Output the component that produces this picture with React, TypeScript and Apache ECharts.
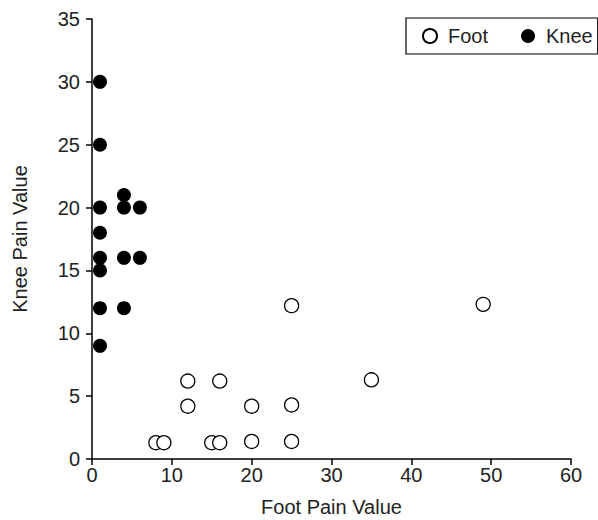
import React, { useEffect, useRef } from "react";
import * as echarts from "echarts";

const footX = [8, 9, 12, 12, 15, 16, 16, 20, 20, 25, 25, 25, 35, 49];
const footY = [1.3, 1.3, 6.2, 4.2, 1.3, 1.3, 6.2, 4.2, 1.4, 12.2, 4.3, 1.4, 6.3, 12.3];
const kneeX = [1, 1, 1, 1, 1, 1, 1, 1, 4, 4, 4, 4, 6, 6];
const kneeY = [30, 25, 20, 18, 16, 15, 12, 9, 21, 20, 16, 12, 20, 16];
const seriesNames = ["Foot", "Knee"];
const xTitle = "Foot Pain Value";
const yTitle = "Knee Pain Value";

const FONT = "'Liberation Sans', Arial, Helvetica, sans-serif";

export default function App() {
  const ref = useRef<HTMLDivElement>(null);
  useEffect(() => {
    if (!ref.current) return;
    const chart = echarts.init(ref.current, undefined, { renderer: "svg" });
    const axisCommon = {
      axisLine: { show: true, lineStyle: { color: "#000", width: 1.5 } },
      axisTick: { show: true, inside: false, length: 6, lineStyle: { color: "#000", width: 1.5 } },
      splitLine: { show: false },
      axisLabel: { color: "#222", fontSize: 20, fontFamily: FONT },
      nameTextStyle: { color: "#222", fontSize: 20, fontFamily: FONT },
      nameLocation: "middle" as const,
    };
    chart.setOption({
      animation: false,
      backgroundColor: "#fff",
      textStyle: { fontFamily: FONT },
      grid: { left: 92, right: 27, top: 19, bottom: 61, containLabel: false, outerBoundsMode: "none" },
      xAxis: {
        ...axisCommon,
        type: "value",
        min: 0,
        max: 60,
        interval: 10,
        name: xTitle,
        nameGap: 38,
        axisLabel: { ...axisCommon.axisLabel, margin: 6 },
      },
      yAxis: {
        ...axisCommon,
        type: "value",
        min: 0,
        max: 35,
        interval: 5,
        name: yTitle,
        nameGap: 62,
        axisLabel: { ...axisCommon.axisLabel, margin: 12 },
      },
      legend: {
        data: seriesNames.map((n) => ({ name: n, icon: "circle" })),
        left: 406,
        top: 18,
        orient: "horizontal",
        borderColor: "#000",
        borderWidth: 1.2,
        borderRadius: 0,
        padding: [8, 5, 8, 16],
        itemWidth: 14,
        itemHeight: 14,
        itemGap: 33,
        textStyle: { color: "#222", fontSize: 20, fontFamily: FONT, padding: [0, 0, 0, 6] },
      },
      series: [
        {
          name: seriesNames[0],
          type: "scatter",
          symbol: "circle",
          symbolSize: 14,
          data: footX.map((x, i) => [x, footY[i]]),
          itemStyle: { color: "#fff", borderColor: "#000", borderWidth: 1.3, opacity: 1 },
        },
        {
          name: seriesNames[1],
          type: "scatter",
          symbol: "circle",
          symbolSize: 14,
          data: kneeX.map((x, i) => [x, kneeY[i]]),
          itemStyle: { color: "#000", borderColor: "#000", borderWidth: 0, opacity: 1 },
        },
      ],
    });
    return () => chart.dispose();
  }, []);
  return (
    <div
      ref={ref}
      style={{ position: "fixed", left: 0, top: 0, width: 598, height: 520, background: "#fff" }}
    />
  );
}
